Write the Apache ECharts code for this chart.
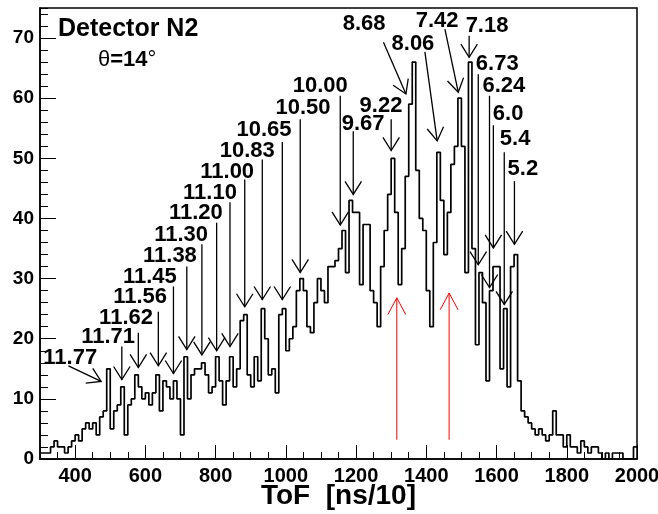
<!DOCTYPE html>
<html>
<head>
<meta charset="utf-8">
<script src="https://cdn.jsdelivr.net/npm/echarts@6/dist/echarts.min.js"></script>
<style>
  html, body { margin: 0; padding: 0; background: #fff; }
  #chart { width: 658px; height: 514px; }
</style>
</head>
<body>
<div id="chart"></div>
<script>
// histogram: bins of 10 starting at 300
const binStart = 300
const binWidth = 10
const counts = [
  1, 1, 1, 2, 3, 2, 2, 1, 2, 3,
  4, 3, 5, 6, 5, 6, 4, 7, 8, 15,
  5, 8, 9, 12, 4, 9, 10, 14, 12, 10,
  11, 9, 11, 14, 8, 13, 12, 10, 13, 10,
  4, 17, 10, 14, 15, 15, 16, 14, 11, 12,
  17, 13, 9, 13, 17, 12, 15, 23, 24, 14,
  12, 17, 13, 25, 20, 14, 15, 11, 24, 25,
  18, 20, 22, 28, 30, 28, 22, 21, 26, 30,
  28, 26, 32, 32, 33, 35, 38, 31, 43, 41,
  41, 29, 39, 39, 28, 26, 22, 32, 38, 44,
  50, 41, 29, 35, 47, 59, 66, 48, 40, 38,
  28, 22, 36, 51, 43, 34, 41, 49, 52, 60,
  52, 31, 66, 35, 19, 31, 26, 13, 28, 32,
  32, 15, 25, 12, 32, 34, 13, 8, 7, 6,
  5, 4, 5, 4, 3, 4, 8, 4, 4, 2,
  4, 2, 2, 1, 3, 2, 1, 2, 2, 1,
  0, 1, 0, 1, 1, 1, 0, 0, 0, 2
]

const xMajorTicks = [400, 600, 800, 1000, 1200, 1400, 1600, 1800, 2000]
const yMajorTicks = [0, 10, 20, 30, 40, 50, 60, 70]

// arrow annotations (data coordinates): tip, start of shaft, label centre
const annotLabels = ['11.77', '11.71', '11.62', '11.56', '11.45', '11.38', '11.30', '11.20', '11.10', '11.00',
  '10.83', '10.65', '10.50', '10.00', '9.67', '9.22', '8.68', '8.06', '7.42', '7.18', '6.73', '6.24', '6.0', '5.4', '5.2']
const annotTipX = [474, 533, 580, 637, 680, 718, 761, 803, 841, 883, 933, 990, 1041, 1155, 1192, 1300, 1342, 1431, 1491, 1522, 1548, 1580, 1591, 1622, 1651]
const annotTipY = [12.9, 13.2, 15.2, 15.5, 14.2, 18.2, 17.3, 18, 18.7, 25.3, 26.5, 26.5, 31, 38.9, 44, 51.3, 60.7, 52.9, 61, 66.8, 32.3, 28.5, 35.1, 25.7, 35.7]
const annotFromX = [381, 533, 580, 637, 680, 718, 761, 803, 841, 883, 933, 990, 1041, 1155, 1192, 1300, 1278, 1396, 1453, 1522, 1548, 1580, 1591, 1622, 1651]
const annotFromY = [15.5, 18.7, 21, 24.5, 28.7, 32, 35.7, 39.3, 42.7, 46.5, 49.8, 52.7, 56.5, 60.4, 54.5, 56.5, 69.3, 67.7, 71.5, 70.4, 64, 60.4, 55.5, 51, 46.2]
const annotTextX = [386, 494, 545, 585, 613, 670, 702, 744, 784, 833, 890, 938, 1049, 1098, 1220, 1271, 1223, 1362, 1431, 1573, 1602, 1621, 1633, 1653, 1675]
const annotTextY = [16.8, 20.3, 23.5, 27, 30.3, 33.7, 37.3, 41, 44.3, 47.8, 51.2, 54.8, 58.3, 62, 55.8, 58.7, 72.3, 69, 72.8, 72, 65.7, 62, 57.3, 53.2, 48.2]

// red arrows
const redX = [1316, 1465]
const redTipY = [26.8, 27.6]
const redBaseY = [3.2, 3.2]

const FONT = '"Liberation Sans", Arial, Helvetica, sans-serif'

let histData = counts.map((c, i) => [binStart + i * binWidth, c])
histData.push([binStart + counts.length * binWidth, counts[counts.length - 1]])

function arrowItem (headLen, headAng, color, width, labels) {
  return function (params, api) {
    let tip = api.coord([api.value(0), api.value(1)])
    let from = api.coord([api.value(2), api.value(3)])
    let a = Math.atan2(from[1] - tip[1], from[0] - tip[0])
    let b1 = [tip[0] + headLen * Math.cos(a + headAng), tip[1] + headLen * Math.sin(a + headAng)]
    let b2 = [tip[0] + headLen * Math.cos(a - headAng), tip[1] + headLen * Math.sin(a - headAng)]
    let style = { stroke: color, lineWidth: width, fill: null }
    let children = [
      { type: 'line', shape: { x1: from[0], y1: from[1], x2: tip[0], y2: tip[1] }, style: style },
      { type: 'polyline', shape: { points: [b1, tip, b2] }, style: style }
    ]
    if (labels) {
      let t = api.coord([api.value(4), api.value(5)])
      children.push({
        type: 'text', x: t[0], y: t[1],
        style: { text: labels[params.dataIndex], font: 'bold 22px ' + FONT, fill: '#000', align: 'center', verticalAlign: 'middle' }
      })
    }
    return { type: 'group', children: children }
  }
}

let chart = echarts.init(document.getElementById('chart'))
chart.setOption({
  animation: false,
  backgroundColor: '#fff',
  grid: {
    left: 40, right: 21, top: 8, bottom: 55, containLabel: false, outerBoundsMode: 'none',
    show: true, borderColor: '#000', borderWidth: 1.5, backgroundColor: 'transparent'
  },
  xAxis: [{
    type: 'value', min: 300, max: 2000, interval: 50, position: 'bottom',
    name: 'ToF  [ns/10]', nameLocation: 'middle', nameGap: 23, nameMoveOverlap: false,
    nameTextStyle: { fontFamily: FONT, fontWeight: 'bold', fontSize: 28, color: '#000' },
    axisLine: { show: true, lineStyle: { color: '#000', width: 1.5 } },
    axisTick: { show: true, inside: true, length: 7, lineStyle: { color: '#000', width: 1 } },
    axisLabel: { show: true, margin: 7, color: '#000', fontFamily: FONT, fontWeight: 'bold', fontSize: 20,
      formatter: v => (v % 200 === 0 ? String(v) : '') },
    splitLine: { show: false }
  }, {
    type: 'value', min: 300, max: 2000, position: 'bottom',
    axisLine: { show: false },
    axisTick: { show: true, inside: true, length: 14, customValues: xMajorTicks, lineStyle: { color: '#000', width: 1 } },
    axisLabel: { show: false },
    splitLine: { show: false }
  }],
  yAxis: [{
    type: 'value', min: 0, max: 75, interval: 2, position: 'left',
    axisLine: { show: true, lineStyle: { color: '#000', width: 1.5 } },
    axisTick: { show: true, inside: true, length: 8, lineStyle: { color: '#000', width: 1 } },
    axisLabel: { show: true, margin: 6, color: '#000', fontFamily: FONT, fontWeight: 'bold', fontSize: 19,
      formatter: v => (v % 10 === 0 ? String(v) : '') },
    splitLine: { show: false }
  }, {
    type: 'value', min: 0, max: 75, position: 'left',
    axisLine: { show: false },
    axisTick: { show: true, inside: true, length: 16, customValues: yMajorTicks, lineStyle: { color: '#000', width: 1 } },
    axisLabel: { show: false },
    splitLine: { show: false }
  }],
  graphic: [
    { type: 'text', left: 58, top: 17, style: { text: 'Detector N2', font: 'bold 25px ' + FONT, fill: '#000' } },
    { type: 'text', left: 98, top: 49, style: {
      text: '{a|θ}{b|=14}{a|°}',
      rich: {
        a: { font: '22px ' + FONT, fill: '#000' },
        b: { font: 'bold 22px ' + FONT, fill: '#000' }
      }
    } }
  ],
  series: [{
    type: 'line', step: 'end', data: histData, showSymbol: false, symbol: 'none',
    lineStyle: { color: '#000', width: 1.7 }, silent: true
  }, {
    type: 'custom', clip: false, silent: true,
    renderItem: arrowItem(15.5, 0.56, '#000', 1.3, annotLabels),
    data: annotLabels.map((l, i) => [annotTipX[i], annotTipY[i], annotFromX[i], annotFromY[i], annotTextX[i], annotTextY[i]])
  }, {
    type: 'custom', clip: false, silent: true,
    renderItem: arrowItem(19, 0.49, '#ff0000', 1, null),
    data: redX.map((x, i) => [x, redTipY[i], x, redBaseY[i]])
  }]
})
</script>
</body>
</html>
